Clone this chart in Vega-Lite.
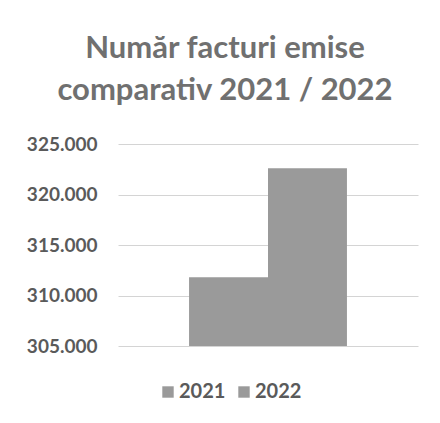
{
  "$schema": "https://vega.github.io/schema/vega-lite/v6.json",
  "autosize": {"type": "none"},
  "padding": {"left": 118, "top": 144, "right": 22, "bottom": 77},
  "width": 300,
  "height": 202,
  "background": "white",
  "config": {
    "locale": {"number": {"decimal": ",", "thousands": ".", "grouping": [3], "currency": ["", ""]}},
    "view": {"stroke": null},
    "font": "Lato"
  },
  "title": {
    "text": ["Număr facturi emise", "comparativ 2021 / 2022"],
    "font": "Lato",
    "fontSize": 31,
    "fontWeight": "bold",
    "color": "#707070",
    "anchor": "middle",
    "frame": "group",
    "dx": -43,
    "lineHeight": 42,
    "offset": 28
  },
  "data": {
    "values": [
      {"year": "2021", "facturi": 311800},
      {"year": "2022", "facturi": 322600}
    ]
  },
  "mark": {"type": "bar", "clip": true},
  "encoding": {
    "x": {
      "field": "year",
      "type": "nominal",
      "scale": {"paddingInner": 0, "paddingOuter": 0.9},
      "axis": null
    },
    "y": {
      "field": "facturi",
      "type": "quantitative",
      "scale": {"domain": [305000, 325000], "zero": false, "nice": false},
      "axis": {
        "values": [305000, 310000, 315000, 320000, 325000],
        "format": ",d",
        "title": null,
        "domain": false,
        "ticks": false,
        "labelPadding": 21,
        "labelFont": "Lato",
        "labelFontSize": 19,
        "labelFontWeight": "bold",
        "labelColor": "#5a5a5a",
        "gridColor": "#d4d4d4",
        "gridWidth": 1
      }
    },
    "color": {
      "field": "year",
      "type": "nominal",
      "scale": {"range": ["#9a9a9a", "#9a9a9a"]},
      "legend": {
        "title": null,
        "orient": "none",
        "direction": "horizontal",
        "legendX": 40,
        "legendY": 238,
        "symbolType": "square",
        "symbolSize": 130,
        "symbolStrokeWidth": 0,
        "symbolOpacity": 1,
        "labelFont": "Lato",
        "labelFontSize": 20,
        "labelFontWeight": "bold",
        "labelColor": "#5a5a5a",
        "labelOffset": 1,
        "columnPadding": 8
      }
    }
  }
}
